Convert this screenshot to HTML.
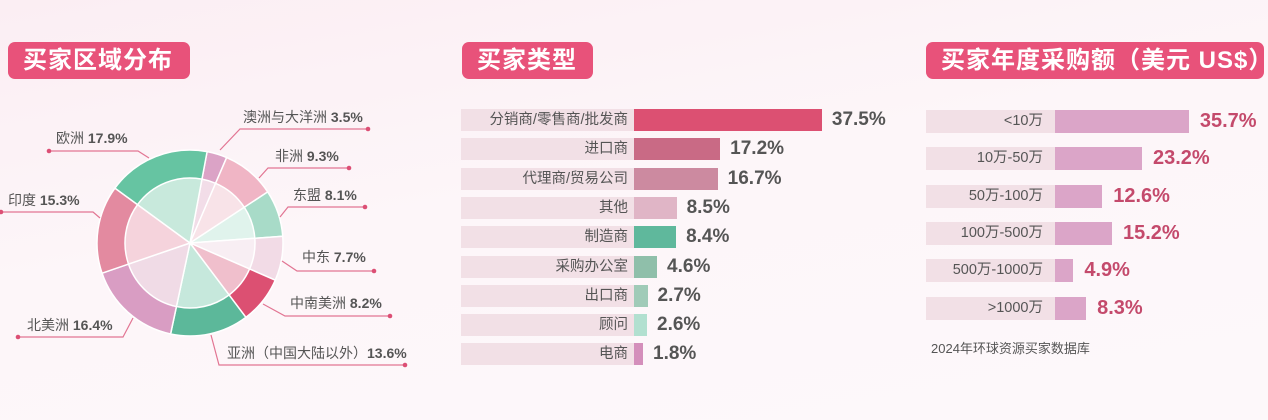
<!DOCTYPE html>
<html><head><meta charset="utf-8">
<style>
*{margin:0;padding:0;box-sizing:border-box}
body{width:1268px;height:420px;overflow:hidden;background:linear-gradient(170deg,#fbeef3 0%,#fdf6f9 45%,#fdf8fa 100%);font-family:"Liberation Sans","Noto Sans CJK SC",sans-serif;position:relative;color:#555}
.t{position:absolute;top:42px;height:37px;background:#e8527a;border-radius:7px;color:#fff;font-weight:bold;font-size:24px;line-height:37px;padding-left:15px;letter-spacing:1px}
.lb{position:absolute;background:#f2e0e6;height:22px;text-align:right;font-size:14.5px;line-height:22px;padding-right:6px;color:#555}
.br{position:absolute;height:22px}
.v{position:absolute;font-weight:bold;font-size:19px;line-height:22px;color:#555}
.v2{color:#c44a6c;font-size:20px}
</style></head><body>
<div class="t" style="left:8px;width:182px">买家区域分布</div>
<div class="t" style="left:462px;width:131px">买家类型</div>
<div class="t" style="left:926px;width:338px">买家年度采购额（美元 US$）</div>

<svg id="pie" width="460" height="420" style="position:absolute;left:0;top:0" font-family="Liberation Sans, Noto Sans CJK SC, sans-serif" font-size="14" fill="#555"></svg>

<div id="mid"></div>
<div id="right"></div>
<div style="position:absolute;left:931px;top:338px;font-size:13px;color:#555">2024年环球资源买家数据库</div>

<script>
var ns="http://www.w3.org/2000/svg",svg=document.getElementById('pie');
var cx=190,cy=243,R=93,r=65;
var d=[[3.5,'#dba3c6','#f2dde8'],[9.3,'#f0b5c5','#f8e3e8'],[8.1,'#a8dbc8','#e0f3ec'],[7.7,'#f2dbe6','#f8eef3'],[8.2,'#dc5072','#f0bfcc'],[13.6,'#5cb89a','#c6e8dc'],[16.4,'#d99dc3','#f0dbe6'],[15.3,'#e38aa0','#f5d3dc'],[17.9,'#66c4a2','#c8e9dc']];
function pt(rad,a){a=a*Math.PI/180;return [cx+rad*Math.sin(a),cy-rad*Math.cos(a)];}
function sector(rad,a0,a1,fill){var p0=pt(rad,a0),p1=pt(rad,a1);var e=document.createElementNS(ns,'path');
e.setAttribute('d','M'+cx+' '+cy+'L'+p0[0]+' '+p0[1]+'A'+rad+' '+rad+' 0 '+((a1-a0)>180?1:0)+' 1 '+p1[0]+' '+p1[1]+'Z');
e.setAttribute('fill',fill);e.setAttribute('stroke','#fff');e.setAttribute('stroke-width','1.5');svg.appendChild(e);}
var a=10.6;
d.forEach(function(s){var b=a+s[0]*3.6;sector(R,a,b,s[1]);a=b;});
a=10.6;
d.forEach(function(s){var b=a+s[0]*3.6;sector(r,a,b,s[2]);a=b;});
var L=[
['澳洲与大洋洲 ','3.5%',243,122,'220,150 240,129 368,129',368,129],
['非洲 ','9.3%',275,161,'259,178 268,168 349,168',349,168],
['东盟 ','8.1%',293,200,'280,217 288,207 365,207',365,207],
['中东 ','7.7%',302,262,'282,261 297,271 374,271',374,271],
['中南美洲 ','8.2%',290,308,'263,304 285,316 390,316',390,316],
['亚洲（中国大陆以外）','13.6%',227,358,'211,335 219,365 405,365',405,365],
['北美洲 ','16.4%',27,330,'133,318 123,337 18,337',18,337],
['印度 ','15.3%',8,205,'100,218 93,212 1,212',1,212],
['欧洲 ','17.9%',56,143,'149,158 138,151 49,151',49,151]];
L.forEach(function(l){
var t=document.createElementNS(ns,'text');t.setAttribute('x',l[2]);t.setAttribute('y',l[3]);
t.innerHTML=l[0]+'<tspan font-weight="bold">'+l[1]+'</tspan>';svg.appendChild(t);
var p=document.createElementNS(ns,'polyline');p.setAttribute('points',l[4]);p.setAttribute('fill','none');p.setAttribute('stroke','#e27593');p.setAttribute('stroke-width','1.2');svg.appendChild(p);
var c=document.createElementNS(ns,'circle');c.setAttribute('cx',l[5]);c.setAttribute('cy',l[6]);c.setAttribute('r','2.3');c.setAttribute('fill','#dc4f75');svg.appendChild(c);});

var mid=[['分销商/零售商/批发商',37.5,'#dc5072'],['进口商',17.2,'#c96a85'],['代理商/贸易公司',16.7,'#cc8aa0'],['其他',8.5,'#e0b5c6'],['制造商',8.4,'#5fb89c'],['采购办公室',4.6,'#8fbfaa'],['出口商',2.7,'#a0cbb8'],['顾问',2.6,'#b2e0d0'],['电商',1.8,'#d48fbb']];
var h='';
mid.forEach(function(m,i){var y=109+i*29.3;var w=m[1]*5.01;
h+='<div class="lb" style="left:461px;top:'+y+'px;width:173px">'+m[0]+'</div>';
h+='<div class="br" style="left:634px;top:'+y+'px;width:'+w+'px;background:'+m[2]+'"></div>';
h+='<div class="v" style="left:'+(634+w+10)+'px;top:'+y+'px">'+m[1].toFixed(1)+'%</div>';});
document.getElementById('mid').innerHTML=h;
var rt=[['&lt;10万',35.7],['10万-50万',23.2],['50万-100万',12.6],['100万-500万',15.2],['500万-1000万',4.9],['&gt;1000万',8.3]];
h='';
rt.forEach(function(m,i){var y=110+i*37.3;var w=m[1]*3.75;
h+='<div class="lb" style="left:926px;top:'+y+'px;width:129px;height:23px;line-height:23px;padding-right:12px">'+m[0]+'</div>';
h+='<div class="br" style="left:1055px;top:'+y+'px;height:23px;width:'+w+'px;background:#dba5c8"></div>';
h+='<div class="v v2" style="left:'+(1055+w+11)+'px;top:'+y+'px;line-height:23px">'+m[1].toFixed(1)+'%</div>';});
document.getElementById('right').innerHTML=h;
</script>
</body></html>
